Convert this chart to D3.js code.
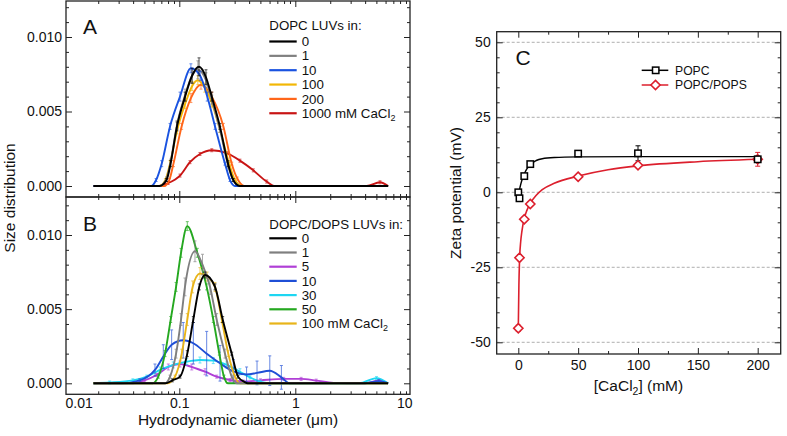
<!DOCTYPE html>
<html><head><meta charset="utf-8">
<script src="https://cdn.jsdelivr.net/npm/d3@7"></script>
<style>body{margin:0;background:#fff}svg text{font-family:"Liberation Sans",Arial,Helvetica,sans-serif;fill:#111}</style>
</head><body>
<script>
// ---------------- DATA ----------------
// Panel A: DOPC LUVs, size distribution [diameter um, value, error]
const distA_0 = [[0.0182,0,0],[0.0676,0,0],[0.0776,0.0004,0.0001],[0.0841,0.0015,0.0002],[0.0955,0.004,0.0003],[0.1122,0.006,0.0003],[0.1288,0.0074,0.0005],[0.1479,0.0080,0.0006],[0.1698,0.0073,0.0005],[0.1905,0.006,0.0003],[0.2239,0.004,0.0002],[0.263,0.0015,0.0002],[0.2917,0.0004,0.0001],[0.3311,0,0],[6.31,0,0]];
const distA_1 = [[0.0182,0,0],[0.0676,0,0],[0.0776,0.0005,0.0001],[0.0841,0.0016,0.0002],[0.0955,0.0041,0.0003],[0.1122,0.0061,0.0004],[0.1288,0.0074,0.0005],[0.1445,0.0078,0.0006],[0.1698,0.0071,0.0005],[0.1905,0.0058,0.0003],[0.2239,0.0038,0.0002],[0.263,0.0014,0.0002],[0.2917,0.0004,0.0001],[0.3311,0,0],[6.31,0,0]];
const distA_10 = [[0.0182,0,0],[0.0575,0,0],[0.0631,0.0004,0.0001],[0.0705,0.0015,0.0002],[0.0832,0.004,0.0002],[0.1014,0.006,0.0003],[0.1259,0.0079,0.0003],[0.1514,0.0074,0.0003],[0.1742,0.006,0.0003],[0.2032,0.004,0.0002],[0.2477,0.0015,0.0001],[0.2735,0.0004,0.0001],[0.302,0,0],[6.31,0,0]];
const distA_100 = [[0.0182,0,0],[0.0676,0,0],[0.0759,0.0004,0.0001],[0.0832,0.0015,0.0002],[0.0955,0.0037,0.0002],[0.1122,0.0055,0.0003],[0.1288,0.0067,0.0003],[0.1445,0.0071,0.0003],[0.166,0.0066,0.0003],[0.1905,0.0056,0.0003],[0.2239,0.0038,0.0002],[0.2692,0.0015,0.0001],[0.302,0.0004,0.0001],[0.3467,0,0],[6.31,0,0]];
const distA_200 = [[0.0182,0,0],[0.0741,0,0],[0.082,0.0004,0.0001],[0.0891,0.0015,0.0002],[0.1047,0.004,0.0002],[0.1259,0.0059,0.0003],[0.1538,0.0068,0.0003],[0.1905,0.006,0.0003],[0.2399,0.004,0.0002],[0.2831,0.0015,0.0001],[0.3162,0.0005,0.0001],[0.3631,0,0],[6.31,0,0]];
const distA_1000 = [[0.0182,0,0],[0.0638,0,0],[0.08,0.0002,0.0001],[0.1014,0.0007,0.0001],[0.1236,0.0016,0.0001],[0.1507,0.00215,0.0001],[0.1905,0.0024,0.0001],[0.2564,0.0022,0.0001],[0.3334,0.0017,0.0001],[0.4345,0.00105,0.0001],[0.5662,0.0003,0.0001],[0.6683,0,0],[4.121,0,0],[5.37,0.00025,0.0001],[6.31,0,0]];
const labelsA = ["0","1","10","100","200","1000 mM CaCl"];
const colorsA = ["#000000","#808080","#1a53e0","#f2b705","#ff661a","#c81414"];

// Panel B: DOPC/DOPS LUVs
const distB_0 = [[0.0182,0,0],[0.0759,0,0],[0.0871,0.0002,0.0001],[0.1014,0.00045,0.0001],[0.1172,0.002,0.0002],[0.1321,0.0043,0.0002],[0.1486,0.0065,0.0002],[0.1667,0.0073,0.0002],[0.2032,0.0065,0.0002],[0.2366,0.0043,0.0002],[0.2831,0.002,0.0001],[0.3206,0.00045,0.0001],[0.3631,0.0001,0],[0.389,0,0],[6.31,0,0]];
const distB_1 = [[0.0182,0,0],[0.0753,0,0],[0.0832,0.00045,0.0001],[0.0938,0.002,0.0003],[0.1035,0.0043,0.0004],[0.1119,0.0065,0.0006],[0.1365,0.0089,0.0007],[0.1585,0.008,0.0007],[0.1841,0.0065,0.0005],[0.2099,0.0043,0.0004],[0.2477,0.002,0.0003],[0.2831,0.00045,0.0001],[0.3126,0,0],[6.31,0,0]];
const distB_5 = [[0.0182,0,0],[0.0398,0,0],[0.0501,0.0002,0.0001],[0.0638,0.00056,0.0001],[0.0804,0.0011,0.0002],[0.1014,0.0013,0.0002],[0.128,0.0011,0.0002],[0.1667,0.00078,0.0002],[0.2099,0.00045,0.0001],[0.2735,0.00022,0.0001],[0.3548,0.00012,0.0001],[0.5012,0.0002,0.0001],[0.7943,0.0003,0.0001],[1.122,0.0003,0.0001],[1.514,0.00018,0.0001],[2.138,0.00003,0],[2.818,0,0],[3.981,0,0],[5.248,0.0002,0.0001],[6.31,0,0]];
const distB_10 = [[0.0182,0,0],[0.0316,0,0],[0.0457,0.0002,0.0001],[0.0617,0.0009,0.0004],[0.0728,0.0018,0.0008],[0.0859,0.0026,0.001],[0.1081,0.0029,0.0012],[0.1321,0.0027,0.0014],[0.1722,0.002,0.0015],[0.2244,0.00135,0.0012],[0.2924,0.0008,0.0008],[0.3802,0.0006,0.0005],[0.4677,0.0007,0.0008],[0.6026,0.00085,0.001],[0.7586,0.0004,0.0008],[0.8913,0,0],[3.981,0,0],[5.248,0.00015,0.0001],[6.31,0,0]];
const distB_30 = [[0.0182,0,0],[0.0251,0.00005,0.0001],[0.0398,0.0002,0.0001],[0.0524,0.00045,0.0001],[0.0682,0.0009,0.0002],[0.0887,0.00124,0.0002],[0.1159,0.00146,0.0002],[0.1507,0.00157,0.0002],[0.1963,0.00153,0.0002],[0.2564,0.00124,0.0002],[0.3334,0.00078,0.0002],[0.4074,0.0004,0.0001],[0.5012,0.0001,0.0001],[0.631,0,0],[3.548,0,0],[5.012,0.00035,0.0001],[6.31,0,0]];
const distB_50 = [[0.0182,0,0],[0.0589,0,0],[0.0659,0.00045,0.0001],[0.0753,0.002,0.0002],[0.0843,0.0043,0.0002],[0.0938,0.0065,0.0003],[0.1035,0.0088,0.0003],[0.1172,0.0106,0.0003],[0.1429,0.0088,0.0003],[0.1722,0.0065,0.0002],[0.1963,0.0043,0.0002],[0.2213,0.002,0.0001],[0.2427,0.00045,0.0001],[0.263,0,0],[6.31,0,0]];
const distB_100 = [[0.0182,0,0],[0.0794,0,0],[0.0918,0.00045,0.0001],[0.105,0.002,0.0003],[0.1172,0.0043,0.0004],[0.1303,0.0065,0.0004],[0.1507,0.0074,0.0004],[0.1738,0.0072,0.0003],[0.2032,0.0065,0.0003],[0.2323,0.0043,0.0002],[0.2642,0.002,0.0002],[0.302,0.00045,0.0001],[0.3334,0,0],[6.31,0,0]];
const labelsB = ["0","1","5","10","30","50","100 mM CaCl"];
const colorsB = ["#000000","#7f7f7f","#b03fd6","#1f4fd6","#1ed6f2","#25a820","#e8b41a"];

// Axis ticks
const yTicksAB = [0, 0.005, 0.010];
const xTicksAB = [0.01, 0.1, 1, 10];

// Panel C: zeta potential
const cacl2 = [0, 1, 5, 10, 50, 100, 200];
const zetaPOPC = [0, -2.0, 5.4, 9.4, 12.9, 13.0, 11.0];
const zetaPOPCerr = [0.5, 0.5, 0.5, 0.5, 0.6, 2.5, 1.0];
const zetaPOPS = [-45.3, -21.8, -9.0, -3.9, 5.2, 9.0, 11.0];
const zetaPOPSerr = [1.0, 1.0, 0.8, 0.8, 0.6, 0.8, 2.3];
const fitPOPCx = [0, 1, 2, 3, 5, 7, 10, 15, 20, 30, 50, 100, 150, 200];
const fitPOPCy = [-2.0, 0.8, 2.6, 4.0, 6.1, 7.7, 9.3, 10.6, 11.2, 11.6, 11.8, 11.9, 11.9, 11.9];
const fitPOPSx = [0, 0.5, 1, 2, 3, 5, 7, 10, 15, 20, 30, 50, 75, 100, 150, 200];
const fitPOPSy = [-45.3, -31, -23, -16.5, -13, -8.7, -6.2, -3.7, -1.0, 0.9, 3.0, 5.4, 7.5, 8.8, 10.2, 11.0];
const xTicksC = [0, 50, 100, 150, 200];
const yTicksC = [-50, -25, 0, 25, 50];

// ---------------- DRAW ----------------
const svg = d3.select("body").append("svg").attr("width", 787).attr("height", 436);
const AX = "#222";

function styleAxis(g, fs) {
  g.select(".domain").remove();
  g.selectAll(".tick line").attr("stroke", AX).attr("stroke-width", 1);
  g.selectAll(".tick text").attr("font-size", fs).attr("fill", "#111")
    .attr("font-family", '"Liberation Sans",Arial,sans-serif');
  g.attr("font-family", null).attr("font-size", null);
}

// ---- Panels A & B ----
const fL = 66, fR = 410;
const xD = d3.scaleLog().domain([0.1, 1]).range([179.3, 295.3]);
const minorX = [];
[0.01, 0.1, 1].forEach(d => { for (let k = 2; k <= 9; k++) minorX.push(d * k); });
const minorY = d3.range(1, 13).map(i => i * 0.001).filter(v => Math.abs(v - 0.005) > 1e-9 && Math.abs(v - 0.010) > 1e-9);

const panels = [
  { key: "A", top: 1, bottom: 197, y: d3.scaleLinear().domain([0, 0.01]).range([186, 37]),
    series: [distA_0, distA_1, distA_10, distA_100, distA_200, distA_1000], labels: labelsA, colors: colorsA,
    order: [5, 4, 3, 1, 2, 0], title: "DOPC LUVs in:", titleY: 30, entryY0: 41.5, entryDy: 14.35, letterY: 34 },
  { key: "B", top: 197, bottom: 394.3, y: d3.scaleLinear().domain([0, 0.01]).range([383.3, 235]),
    series: [distB_0, distB_1, distB_5, distB_10, distB_30, distB_50, distB_100], labels: labelsB, colors: colorsB,
    order: [2, 4, 3, 5, 6, 1, 0], title: "DOPC/DOPS LUVs in:", titleY: 229.3, entryY0: 238.3, entryDy: 14.2, letterY: 231 }
];

panels.forEach((p, pi) => {
  const clipId = "clip" + p.key;
  svg.append("clipPath").attr("id", clipId).append("rect")
    .attr("x", fL).attr("y", p.top).attr("width", fR - fL).attr("height", p.bottom - p.top);
  const plot = svg.append("g").attr("clip-path", `url(#${clipId})`);
  const line = d3.line().x(d => xD(d[0])).y(d => p.y(d[1])).curve(d3.curveMonotoneX);
  p.order.forEach(i => {
    const s = p.series[i], c = p.colors[i];
    const eb = plot.append("g").attr("stroke", c).attr("stroke-width", 0.9).attr("opacity", 0.75);
    s.filter(d => d[2] > 0).forEach(d => {
      const x = xD(d[0]), y1 = p.y(d[1] - d[2]), y2 = p.y(d[1] + d[2]);
      eb.append("line").attr("x1", x).attr("x2", x).attr("y1", y1).attr("y2", y2);
      eb.append("line").attr("x1", x - 1.5).attr("x2", x + 1.5).attr("y1", y1).attr("y2", y1);
      eb.append("line").attr("x1", x - 1.5).attr("x2", x + 1.5).attr("y1", y2).attr("y2", y2);
    });
    plot.append("path").datum(s).attr("d", line).attr("fill", "none").attr("stroke", c)
      .attr("stroke-width", 1.9).attr("stroke-linejoin", "round");
  });

  // y axes
  const gl = svg.append("g").attr("transform", `translate(${fL},0)`)
    .call(d3.axisLeft(p.y).tickValues(yTicksAB).tickFormat(d3.format(".3f")).tickSize(-6).tickPadding(4));
  styleAxis(gl, 14);
  const glm = svg.append("g").attr("transform", `translate(${fL},0)`)
    .call(d3.axisLeft(p.y).tickValues(minorY.filter(v => p.y(v) > p.top + 1)).tickFormat("").tickSize(-3));
  styleAxis(glm, 14);
  const gr = svg.append("g").attr("transform", `translate(${fR},0)`)
    .call(d3.axisRight(p.y).tickValues(yTicksAB).tickFormat("").tickSize(-6));
  styleAxis(gr, 14);
  const grm = svg.append("g").attr("transform", `translate(${fR},0)`)
    .call(d3.axisRight(p.y).tickValues(minorY.filter(v => p.y(v) > p.top + 1)).tickFormat("").tickSize(-3));
  styleAxis(grm, 14);

  // x ticks top and bottom (inward)
  const inX = xTicksAB.filter(v => xD(v) > fL && xD(v) < fR);
  const mX = minorX.filter(v => xD(v) > fL && xD(v) < fR);
  const gt = svg.append("g").attr("transform", `translate(0,${p.top})`)
    .call(d3.axisTop(xD).tickValues(inX).tickFormat("").tickSize(-6));
  styleAxis(gt, 14);
  const gtm = svg.append("g").attr("transform", `translate(0,${p.top})`)
    .call(d3.axisTop(xD).tickValues(mX).tickFormat("").tickSize(-3));
  styleAxis(gtm, 14);
  const isB = p.key === "B";
  const gb = svg.append("g").attr("transform", `translate(0,${p.bottom})`)
    .call(d3.axisBottom(xD).tickValues(isB ? xTicksAB : inX).tickFormat(isB ? (d => String(d)) : "").tickSize(-6).tickPadding(4));
  styleAxis(gb, 14);
  if (isB) {
    gb.selectAll(".tick").filter(d => d === 0.01 || d === 10).select("line").remove();
    gb.selectAll(".tick").filter(d => d === 0.01).select("text").attr("text-anchor", "start").attr("x", fL - 1 - xD(0.01));
    gb.selectAll(".tick").filter(d => d === 10).select("text").attr("text-anchor", "end").attr("x", fR + 2 - xD(10));
  }
  const gbm = svg.append("g").attr("transform", `translate(0,${p.bottom})`)
    .call(d3.axisBottom(xD).tickValues(mX).tickFormat("").tickSize(-3));
  styleAxis(gbm, 14);

  // frame
  svg.append("rect").attr("x", fL).attr("y", p.top).attr("width", fR - fL).attr("height", p.bottom - p.top)
    .attr("fill", "none").attr("stroke", AX).attr("stroke-width", 1.3);

  // panel letter
  svg.append("text").attr("x", 83).attr("y", p.letterY).attr("font-size", 21).text(p.key);

  // legend
  const lg = svg.append("g");
  lg.append("text").attr("x", 269.3).attr("y", p.titleY).attr("font-size", 13.3).text(p.title);
  p.labels.forEach((lab, i) => {
    const yy = p.entryY0 + i * p.entryDy;
    lg.append("line").attr("x1", 269.3).attr("x2", 296.7).attr("y1", yy).attr("y2", yy)
      .attr("stroke", p.colors[i]).attr("stroke-width", 2.2);
    const t = lg.append("text").attr("x", 301.7).attr("y", yy + 4.6).attr("font-size", 13.3).text(lab);
    if (lab.endsWith("CaCl")) t.append("tspan").attr("font-size", 9).attr("dy", 3).text("2");
  });
});

// axis titles A/B
svg.append("text").attr("transform", "translate(15,198) rotate(-90)").attr("text-anchor", "middle")
  .attr("font-size", 15.5).text("Size distribution");
svg.append("text").attr("x", 238).attr("y", 425).attr("text-anchor", "middle")
  .attr("font-size", 15.5).text("Hydrodynamic diameter (μm)");

// ---- Panel C ----
const cL = 496.7, cR = 780.7, cT = 31.7, cB = 354;
const xC = d3.scaleLinear().domain([0, 200]).range([518.3, 757.7]);
const yC = d3.scaleLinear().domain([-50, 50]).range([342.3, 42.3]);

// grid
const grid = svg.append("g");
yTicksC.forEach(v => grid.append("line").attr("x1", cL).attr("x2", cR).attr("y1", yC(v)).attr("y2", yC(v))
  .attr("stroke", "#9a9a9a").attr("stroke-width", 0.8).attr("stroke-dasharray", "3,2"));

const minorYC = d3.range(-50, 51, 5).filter(v => v % 25 !== 0);
const minorXC = [25, 75, 125, 175];
const cl = svg.append("g").attr("transform", `translate(${cL},0)`)
  .call(d3.axisLeft(yC).tickValues(yTicksC).tickFormat(d => String(d)).tickSize(-6).tickPadding(6));
styleAxis(cl, 14);
styleAxis(svg.append("g").attr("transform", `translate(${cL},0)`).call(d3.axisLeft(yC).tickValues(minorYC).tickFormat("").tickSize(-3)), 14);
styleAxis(svg.append("g").attr("transform", `translate(${cR},0)`).call(d3.axisRight(yC).tickValues(yTicksC).tickFormat("").tickSize(-6)), 14);
styleAxis(svg.append("g").attr("transform", `translate(${cR},0)`).call(d3.axisRight(yC).tickValues(minorYC).tickFormat("").tickSize(-3)), 14);
const cb = svg.append("g").attr("transform", `translate(0,${cB})`)
  .call(d3.axisBottom(xC).tickValues(xTicksC).tickFormat(d => String(d)).tickSize(-6).tickPadding(6));
styleAxis(cb, 14);
styleAxis(svg.append("g").attr("transform", `translate(0,${cB})`).call(d3.axisBottom(xC).tickValues(minorXC).tickFormat("").tickSize(-3)), 14);
styleAxis(svg.append("g").attr("transform", `translate(0,${cT})`).call(d3.axisTop(xC).tickValues(xTicksC).tickFormat("").tickSize(-6)), 14);
styleAxis(svg.append("g").attr("transform", `translate(0,${cT})`).call(d3.axisTop(xC).tickValues(minorXC).tickFormat("").tickSize(-3)), 14);

svg.append("rect").attr("x", cL).attr("y", cT).attr("width", cR - cL).attr("height", cB - cT)
  .attr("fill", "none").attr("stroke", AX).attr("stroke-width", 1.3);

const redC = "#dc1f2d";
const lineC = d3.line().x(d => xC(d[0])).y(d => yC(d[1])).curve(d3.curveMonotoneX);
const popsFit = fitPOPSx.map((x, i) => [x, fitPOPSy[i]]);
const popcFit = fitPOPCx.map((x, i) => [x, fitPOPCy[i]]);
svg.append("path").datum(popsFit).attr("d", lineC).attr("fill", "none").attr("stroke", redC).attr("stroke-width", 1.6);
svg.append("path").datum(popcFit).attr("d", lineC).attr("fill", "none").attr("stroke", "#000").attr("stroke-width", 1.4);

function errBars(vals, errs, color) {
  const g = svg.append("g").attr("stroke", color).attr("stroke-width", 1);
  cacl2.forEach((x, i) => {
    const px = xC(x), y1 = yC(vals[i] - errs[i]), y2 = yC(vals[i] + errs[i]);
    g.append("line").attr("x1", px).attr("x2", px).attr("y1", y1).attr("y2", y2);
    g.append("line").attr("x1", px - 2.5).attr("x2", px + 2.5).attr("y1", y1).attr("y2", y1);
    g.append("line").attr("x1", px - 2.5).attr("x2", px + 2.5).attr("y1", y2).attr("y2", y2);
  });
}
errBars(zetaPOPS, zetaPOPSerr, redC);
errBars(zetaPOPC, zetaPOPCerr, "#000");

const diamond = (cx, cy, r) => `M${cx},${cy - r}L${cx + r},${cy}L${cx},${cy + r}L${cx - r},${cy}Z`;
svg.append("g").selectAll("path").data(cacl2.map((x, i) => [x, zetaPOPS[i]])).join("path")
  .attr("d", d => diamond(xC(d[0]), yC(d[1]), 4.6)).attr("fill", "#fff").attr("stroke", redC).attr("stroke-width", 1.6);
svg.append("g").selectAll("rect").data(cacl2.map((x, i) => [x, zetaPOPC[i]])).join("rect")
  .attr("x", d => xC(d[0]) - 3.2).attr("y", d => yC(d[1]) - 3.2).attr("width", 6.4).attr("height", 6.4)
  .attr("fill", "#fff").attr("stroke", "#000").attr("stroke-width", 1.5);

// legend C
const lgc = svg.append("g");
[["POPC", "#000", "sq"], ["POPC/POPS", redC, "di"]].forEach((e, i) => {
  const yy = 70.3 + i * 14.7;
  lgc.append("line").attr("x1", 641.7).attr("x2", 668.3).attr("y1", yy).attr("y2", yy).attr("stroke", e[1]).attr("stroke-width", 1.5);
  if (e[2] === "sq") lgc.append("rect").attr("x", 652.5).attr("y", yy - 3.2).attr("width", 6.4).attr("height", 6.4).attr("fill", "#fff").attr("stroke", e[1]).attr("stroke-width", 1.5);
  else lgc.append("path").attr("d", diamond(655.5, yy, 4.6)).attr("fill", "#fff").attr("stroke", e[1]).attr("stroke-width", 1.6);
  lgc.append("text").attr("x", 675).attr("y", yy + 4.3).attr("font-size", 12.2).text(e[0]);
});

svg.append("text").attr("x", 515.5).attr("y", 65).attr("font-size", 21).text("C");
svg.append("text").attr("transform", "translate(461,193) rotate(-90)").attr("text-anchor", "middle")
  .attr("font-size", 15.5).text("Zeta potential (mV)");
const xt = svg.append("text").attr("x", 638.5).attr("y", 391).attr("text-anchor", "middle").attr("font-size", 15.5);
xt.append("tspan").text("[CaCl");
xt.append("tspan").attr("font-size", 10.5).attr("dy", 3.5).text("2");
xt.append("tspan").attr("dy", -3.5).text("] (mM)");
</script>
</body></html>
